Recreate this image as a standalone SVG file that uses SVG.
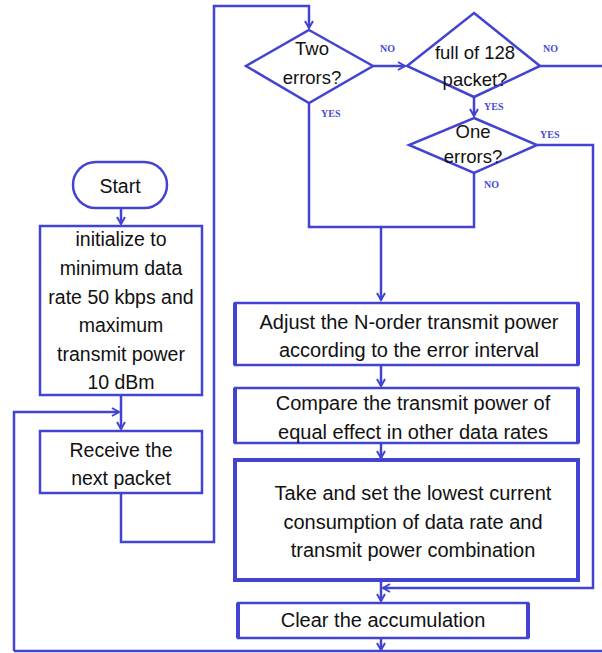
<svg xmlns="http://www.w3.org/2000/svg" width="602" height="653" viewBox="0 0 602 653">
<defs>
<marker id="ah" markerWidth="10" markerHeight="10" refX="8" refY="5" orient="auto" markerUnits="userSpaceOnUse">
<path d="M1,1 L8,5 L1,9" fill="none" stroke="#4343d3" stroke-width="2"/>
</marker>
<style>
.n{fill:#fff;stroke:#4343d3;stroke-width:2.5}
.thick{fill:#fff;stroke:#4343d3;stroke-width:4}
.c{fill:none;stroke:#4343d3;stroke-width:2.5}
.t{font-family:"Liberation Sans",Arial,sans-serif;font-size:18.5px;fill:#111;text-anchor:middle}
.b{font-size:20px}
.s{font-size:19.5px}
.l{font-family:"Liberation Serif","Times New Roman",serif;font-size:10px;font-weight:bold;fill:#4a4ad6;text-anchor:start}
</style>
</defs>
<rect width="602" height="653" fill="#fff"/>
<g id="connectors">
<path class="c" d="M121,208 L121,224" marker-end="url(#ah)"/>
<path class="c" d="M121,395 L121,429" marker-end="url(#ah)"/>
<path class="c" d="M14,651 L14,412 L119,412" marker-end="url(#ah)"/>
<path class="c" d="M121,493 L121,542 L214,542 L214,6 L309,6 L309,28" marker-end="url(#ah)"/>
<path class="c" d="M373,66 L405,66" marker-end="url(#ah)"/>
<path class="c" d="M540,66 L602,66"/>
<path class="c" d="M474,97 L474,116" marker-end="url(#ah)"/>
<path class="c" d="M537,145 L593,145 L593,588 L383,588" marker-end="url(#ah)"/>
<path class="c" d="M309,103 L309,227 L474,227 L474,173"/>
<path class="c" d="M381,227 L381,300" marker-end="url(#ah)"/>
<path class="c" d="M381,365 L381,386" marker-end="url(#ah)"/>
<path class="c" d="M381,443 L381,458" marker-end="url(#ah)"/>
<path class="c" d="M381,580 L381,601" marker-end="url(#ah)"/>
<path class="c" d="M381,638 L381,650" marker-end="url(#ah)"/>
<path class="c" d="M14,651 L602,651"/>
<text class="l" x="380" y="52">NO</text>
<text class="l" x="543" y="52">NO</text>
<text class="l" x="321" y="117">YES</text>
<text class="l" x="484" y="110">YES</text>
<text class="l" x="540" y="138">YES</text>
<text class="l" x="484" y="188">NO</text>
</g>
<g id="start">
<rect class="n" x="73" y="162" width="94" height="46" rx="23"/>
<text class="t s" x="120" y="193">Start</text>
</g>
<g id="init">
<rect class="n" x="40" y="226" width="162" height="169"/>
<text class="t s" x="121" y="246">initialize to</text>
<text class="t s" x="121" y="275">minimum data</text>
<text class="t s" x="121" y="304">rate 50 kbps and</text>
<text class="t s" x="121" y="332">maximum</text>
<text class="t s" x="121" y="361">transmit power</text>
<text class="t s" x="121" y="389">10 dBm</text>
</g>
<g id="receive">
<rect class="n" x="40" y="431" width="162" height="62"/>
<text class="t s" x="121" y="457">Receive the</text>
<text class="t s" x="121" y="485">next packet</text>
</g>
<g id="two">
<polygon class="n" points="309,30 373,66 309,103 246,66"/>
<text class="t" x="312" y="55">Two</text>
<text class="t" x="312" y="84">errors?</text>
</g>
<g id="full">
<polygon class="n" points="474,13 540,66 474,97 407,66"/>
<text class="t" x="475" y="59">full of 128</text>
<text class="t" x="475" y="86">packet?</text>
</g>
<g id="one">
<polygon class="n" points="474,118 537,145 474,173 409,145"/>
<text class="t" x="473" y="138">One</text>
<text class="t" x="473" y="163">errors?</text>
</g>
<g id="adjust">
<rect class="n" x="235" y="303" width="343" height="62"/>
<path class="c" d="M235,303 L235,365 M578,303 L578,365" style="stroke-width:4"/>
<text class="t b" x="409" y="329">Adjust the N-order transmit power</text>
<text class="t b" x="409" y="357">according to the error interval</text>
</g>
<g id="compare">
<rect class="n" x="235" y="388" width="343" height="55"/>
<path class="c" d="M235,388 L235,443 M578,388 L578,443" style="stroke-width:4"/>
<text class="t b" x="413" y="410">Compare the transmit power of</text>
<text class="t b" x="413" y="439">equal effect in other data rates</text>
</g>
<g id="take">
<rect class="thick" x="235" y="460" width="343" height="120"/>
<text class="t b" x="413" y="500">Take and set the lowest current</text>
<text class="t b" x="413" y="529">consumption of data rate and</text>
<text class="t b" x="413" y="557">transmit power combination</text>
</g>
<g id="clear">
<rect class="n" x="238" y="603" width="290" height="35"/>
<path class="c" d="M238,603 L238,638 M528,603 L528,638" style="stroke-width:4"/>
<text class="t b" x="383" y="627">Clear the accumulation</text>
</g>
</svg>
